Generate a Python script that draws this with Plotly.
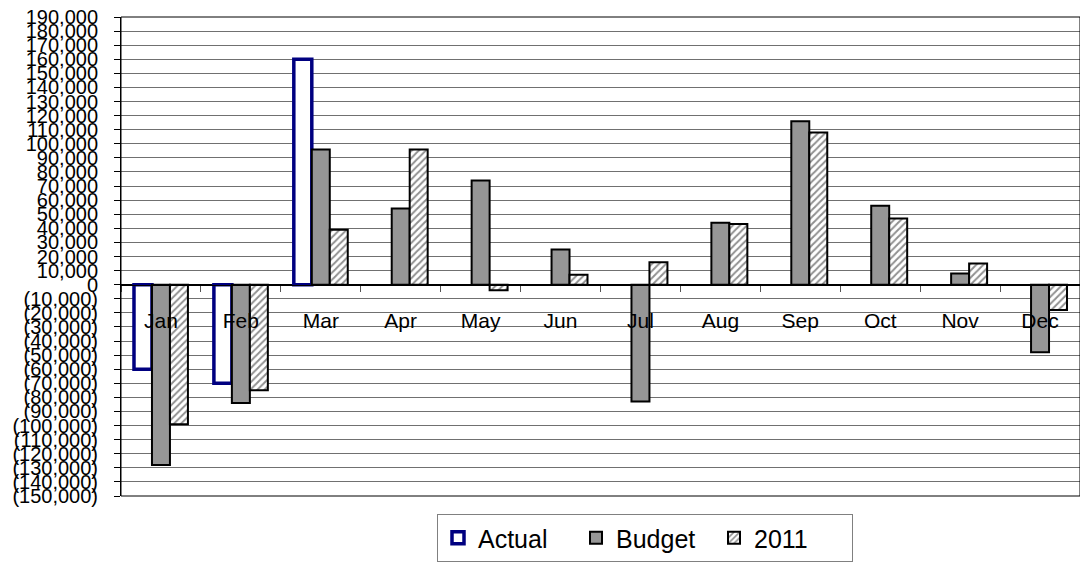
import plotly.graph_objects as go

# Monthly variance figures
months = ["Jan", "Feb", "Mar", "Apr", "May", "Jun",
          "Jul", "Aug", "Sep", "Oct", "Nov", "Dec"]
actual = [-60000, -70000, 160000, None, None, None,
          None, None, None, None, None, None]
budget = [-128000, -84000, 96000, 54000, 74000, 25000,
          -83000, 44000, 116000, 56000, 8000, -48000]
prior_2011 = [-99000, -75000, 39000, 96000, -4000, 7000,
              16000, 43000, 108000, 47000, 15000, -18000]

y_min, y_max, y_step = -150000, 190000, 10000
tick_values = list(range(y_min, y_max + 1, y_step))


def fmt(v):
    if v < 0:
        return "({:,})".format(-v)
    return "{:,}".format(v)


tick_labels = [fmt(v) for v in tick_values]

FONT = "Liberation Sans, Arial, sans-serif"

fig = go.Figure()
fig.add_trace(go.Bar(
    name="Actual", x=months, y=actual,
    marker=dict(color="white", line=dict(color="#000080", width=3.5)),
))
fig.add_trace(go.Bar(
    name="Budget", x=months, y=budget,
    marker=dict(color="#969696", line=dict(color="black", width=2)),
))
fig.add_trace(go.Bar(
    name="2011", x=months, y=prior_2011,
    marker=dict(
        color="white",
        line=dict(color="black", width=2),
        pattern=dict(shape="/", fgcolor="#222222", bgcolor="white",
                     size=5, solidity=0.4),
    ),
))

zero_pos = (0 - y_min) / (y_max - y_min)

fig.update_layout(
    width=1080, height=572,
    margin=dict(l=121, r=0, t=17, b=76, autoexpand=False),
    paper_bgcolor="white", plot_bgcolor="white",
    barmode="group", bargap=0.325, bargroupgap=0,
    font=dict(family=FONT, color="black", size=20),
    showlegend=True,
    legend=dict(
        orientation="h",
        x=(437 - 121) / 959, xanchor="left",
        y=-18 / 479, yanchor="top",
        font=dict(size=25, family=FONT, color="black"),
        bordercolor="#808080", borderwidth=1,
        bgcolor="white",
        entrywidth=93, entrywidthmode="pixels",
        itemclick=False,
        tracegroupgap=0,
    ),
    xaxis=dict(
        type="category",
        anchor="free", position=zero_pos,
        showline=True, linecolor="black", linewidth=1,
        ticks="outside", ticklen=6, tickcolor="#555555",
        tickson="boundaries",
        tickfont=dict(size=21, family=FONT, color="black"),
        ticklabelstandoff=17,
        showgrid=False, automargin=False,
        range=[-0.5, 11.5],
    ),
    yaxis=dict(
        range=[y_min, y_max],
        tickvals=tick_values, ticktext=tick_labels,
        tickfont=dict(size=20, family=FONT, color="black"),
        showline=True, linecolor="black", linewidth=1,
        ticks="outside", ticklen=6, tickcolor="black",
        showgrid=True, gridcolor="#707070", gridwidth=1,
        zeroline=True, zerolinecolor="black", zerolinewidth=1,
        ticklabelstandoff=12,
        automargin=False,
    ),
    shapes=[dict(
        type="rect", xref="paper", yref="paper",
        x0=0, x1=1, y0=0, y1=1,
        line=dict(color="black", width=1), layer="above",
    )],
)

fig.write_html("out.html")
